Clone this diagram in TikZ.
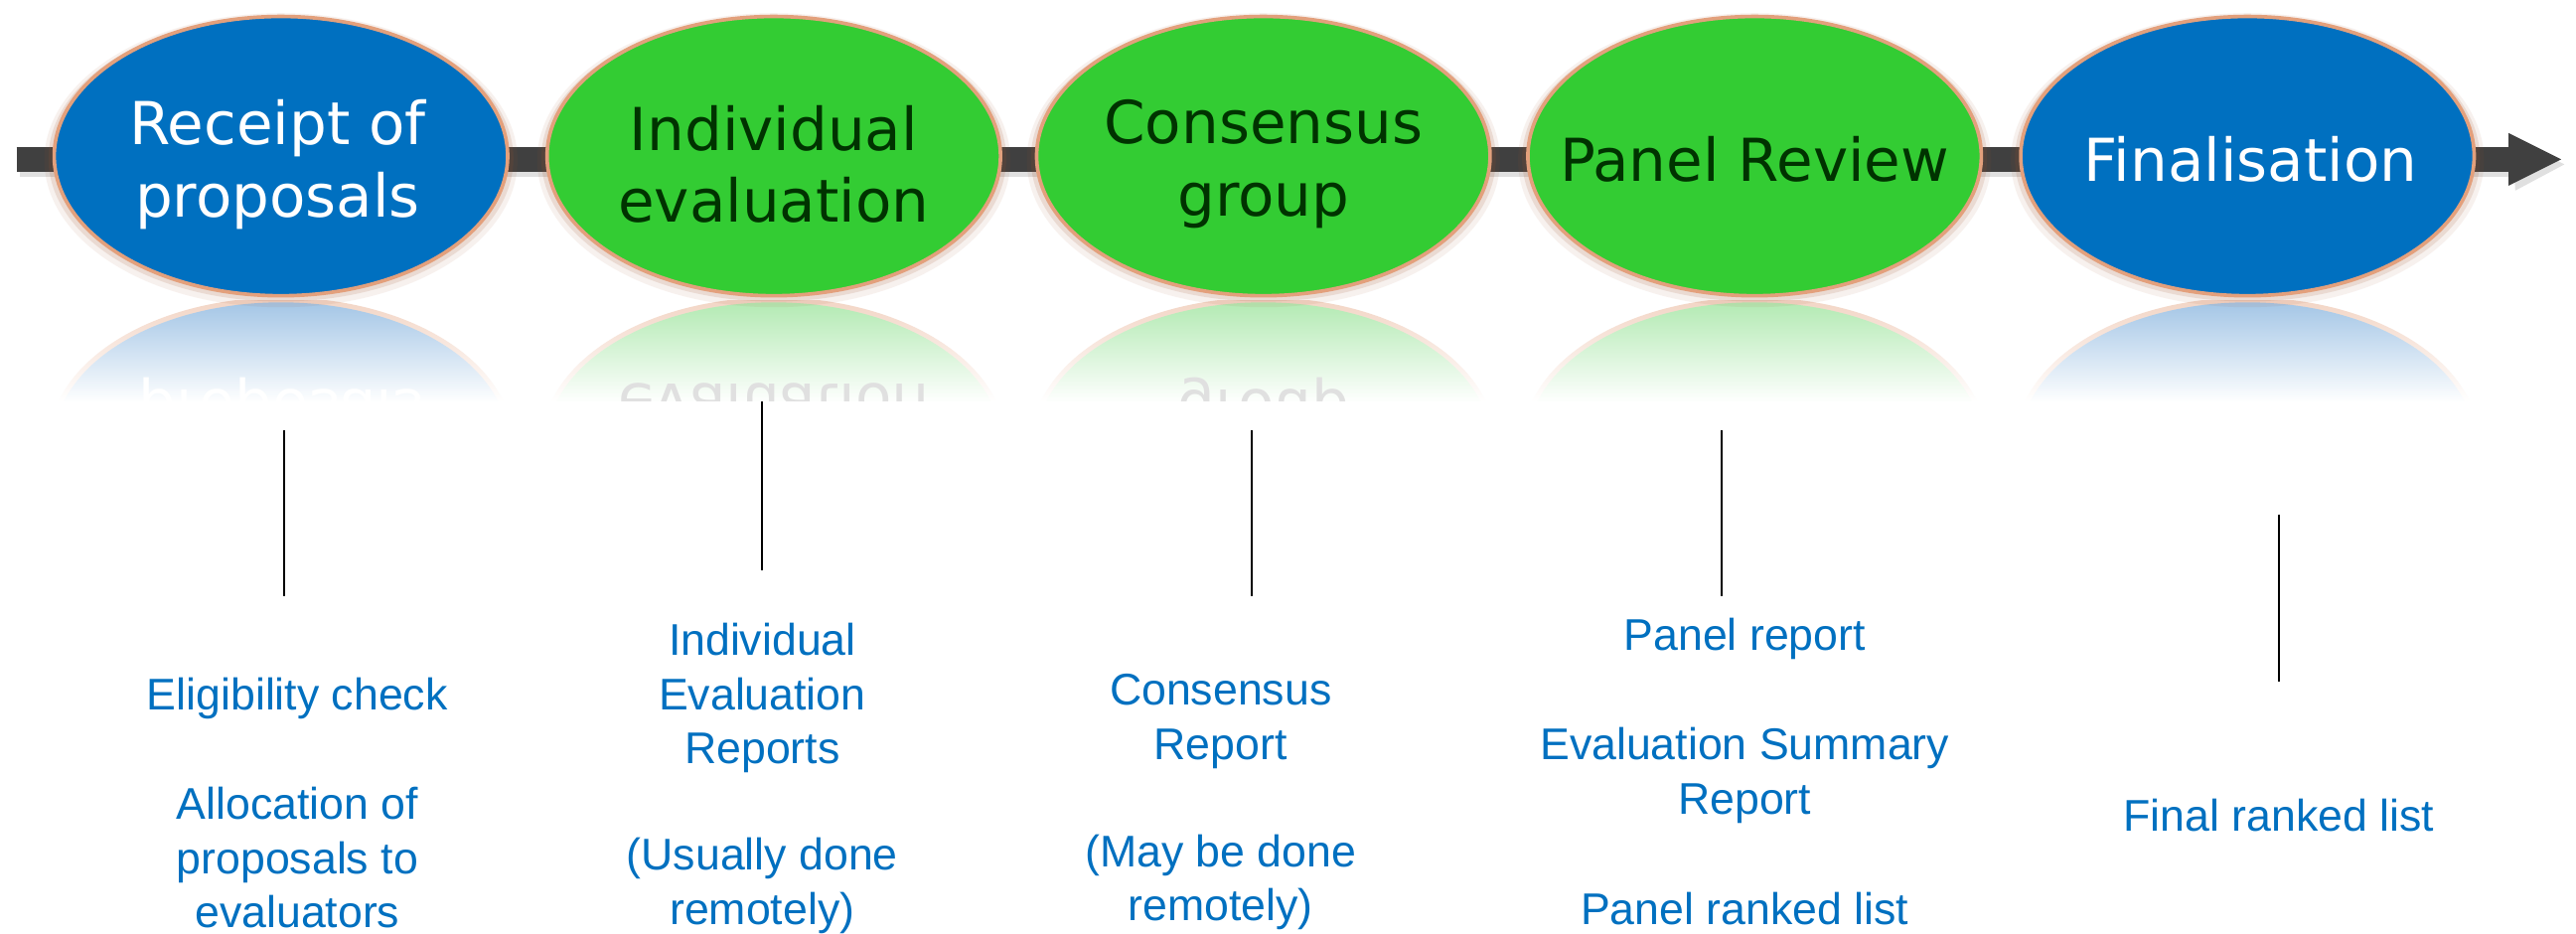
\documentclass[tikz,border=0pt]{standalone}
\usepackage{fontspec}
\setmainfont{Liberation Sans}
\newfontfamily\elfont{DejaVu Sans}
\usetikzlibrary{shapes.geometric,calc}
\definecolor{bluefill}{HTML}{0070C0}
\definecolor{greenfill}{HTML}{33CC33}
\definecolor{darkgreentext}{HTML}{003300}
\definecolor{glow}{HTML}{E3A07C}
\definecolor{glowdark}{HTML}{A0522D}
\definecolor{bartone}{HTML}{404040}
\definecolor{labelblue}{HTML}{0070C0}
\definecolor{reflblue}{HTML}{A4C6E6}
\definecolor{reflgreen}{HTML}{B3EAB3}
\pgfdeclareverticalshading{fadeblue}{100bp}{color(0bp)=(white); color(57bp)=(white); color(75bp)=(reflblue); color(100bp)=(reflblue)}
\pgfdeclareverticalshading{fadegreen}{100bp}{color(0bp)=(white); color(57bp)=(white); color(75bp)=(reflgreen); color(100bp)=(reflgreen)}
\pgfdeclareverticalshading{fadeglow}{100bp}{color(0bp)=(white); color(57bp)=(white); color(75bp)=(glow!45); color(100bp)=(glow!45)}
\begin{document}
\begin{tikzpicture}[x=1pt,y=-1pt,
  stage/.style={ellipse, minimum width=276pt, minimum height=170pt, inner sep=0pt,
    draw=glow, line width=2.2pt},
  bluestage/.style={stage, fill=bluefill},
  greenstage/.style={stage, fill=greenfill},
  stagetext/.style={align=center, inner sep=0pt,
    font=\elfont\fontsize{36}{44}\selectfont},
  refltext/.style={stagetext, transform shape},
  lbl/.style={align=center, text=labelblue, inner sep=0pt,
    font=\fontsize{27}{33}\selectfont},
  tick/.style={draw=black, line width=1.1pt},
  barline/.style={line width=15pt, draw=bartone}]
\useasboundingbox (0,0) rectangle (1568,568);
\fill[white] (0,0) rectangle (1568,568);

% ---- main bar with arrow ----
\coordinate (barstart) at (10,97);
\coordinate (barend) at (1529,97);
\coordinate (tip) at (1559,97);
\draw[line width=15pt, black, opacity=0.12] ($(barstart)+(2,3)$) -- ($(barend)+(2,3)$);
\fill[black, opacity=0.12] ($(barend)+(0,-13)$) -- ($(tip)+(2,3)$) -- ($(barend)+(2,19)$) -- cycle;
\draw[barline] (barstart) -- (barend);
\fill[bartone] ($(barend)+(-2,-16)$) -- (tip) -- ($(barend)+(-2,16)$) -- cycle;

% ---- reflections ----
\begin{scope}
\clip (0,183) rectangle (1568,244);
\foreach \cx/\sh in {171/fadeblue, 471/fadegreen, 769/fadegreen, 1068/fadegreen, 1368/fadeblue}{
  \shade[shading=fadeglow] (\cx,269) ellipse [x radius=141, y radius=88];
  \shade[shading=\sh] (\cx,269) ellipse [x radius=138, y radius=85];
}
\begin{scope}[shift={(0,368)}, yscale=-1]
  \node[refltext, text=white] (r1) at (171,99) {Receipt of\\proposals};
  \node[refltext, text=white!88!black] (r2) at (471,99) {Individual\\evaluation};
  \node[refltext, text=white!88!black] (r3) at (769,99) {Consensus\\group};
\end{scope}
\end{scope}

% ---- shadows of stages ----
\foreach \cx in {171,471,769,1068,1368}{
  \fill[glowdark, opacity=0.08] (\cx,97.5) ellipse [x radius=144, y radius=89.5];
  \fill[glowdark, opacity=0.14] (\cx,96.5) ellipse [x radius=141.5, y radius=87];
}

% ---- stages ----
\node[bluestage]  (s1) at (171,95)  {};
\node[greenstage] (s2) at (471,95)  {};
\node[greenstage] (s3) at (769,95)  {};
\node[greenstage] (s4) at (1068,95) {};
\node[bluestage]  (s5) at (1368,95) {};
\node[stagetext, text=white] (s1t) at ($(s1)+(-2,5)$) {Receipt of\\proposals};
\node[stagetext, text=darkgreentext] (s2t) at ($(s2)+(0,5)$) {Individual\\evaluation};
\node[stagetext, text=darkgreentext] (s3t) at ($(s3)+(0,5)$) {Consensus\\group};
\node[stagetext, text=darkgreentext] (s4t) at ($(s4)+(0,2)$) {Panel Review};
\node[stagetext, text=white] (s5t) at ($(s5)+(2,2)$) {Finalisation};

% ---- ticks ----
\coordinate (t1a) at (173,262); \coordinate (t1b) at (173,363);
\coordinate (t2a) at (464,244); \coordinate (t2b) at (464,347);
\coordinate (t3a) at (762,262); \coordinate (t3b) at (762,363);
\coordinate (t4a) at (1048,262); \coordinate (t4b) at (1048,363);
\coordinate (t5a) at (1387,313); \coordinate (t5b) at (1387,415);
\draw[tick] (t1a) -- (t1b);
\draw[tick] (t2a) -- (t2b);
\draw[tick] (t3a) -- (t3b);
\draw[tick] (t4a) -- (t4b);
\draw[tick] (t5a) -- (t5b);

% ---- labels ----
\node[lbl] (l1a) at (181,425) {Eligibility check};
\node[lbl] (l1b) at (181,522) {Allocation of\\proposals to\\evaluators};
\node[lbl] (l2a) at (464,425) {Individual\\Evaluation\\Reports};
\node[lbl] (l2b) at (464,539) {(Usually done\\remotely)};
\node[lbl] (l3a) at (743,439) {Consensus\\Report};
\node[lbl] (l3b) at (743,537) {(May be done\\remotely)};
\node[lbl] (l4a) at (1062,389) {Panel report};
\node[lbl] (l4b) at (1062,472) {Evaluation Summary\\Report};
\node[lbl] (l4c) at (1062,553) {Panel ranked list};
\node[lbl] (l5) at (1387,496) {Final ranked list};
\end{tikzpicture}
\end{document}
